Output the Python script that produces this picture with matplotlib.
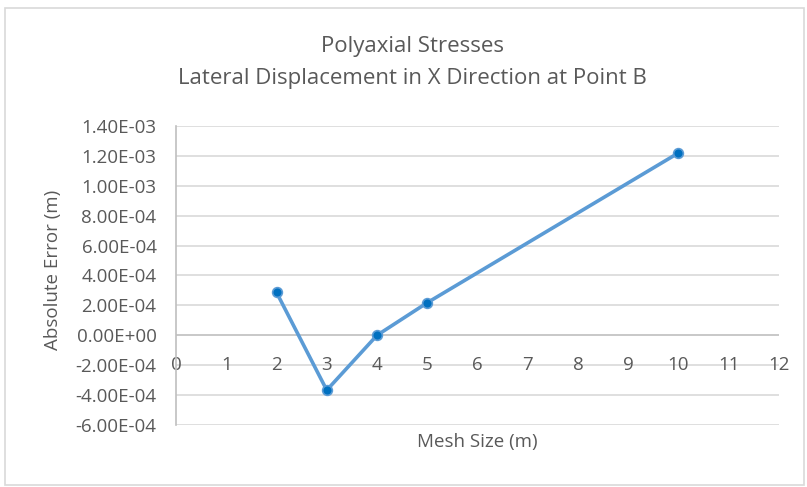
import matplotlib.pyplot as plt
from matplotlib.patches import Rectangle

# mesh size vs. absolute error
mesh_size = [2, 3, 4, 5, 10]
abs_error = [2.87e-4, -3.67e-4, 0.0, 2.18e-4, 1.22e-3]

y_ticks = [-6e-4, -4e-4, -2e-4, 0.0, 2e-4, 4e-4, 6e-4, 8e-4, 1.0e-3, 1.2e-3, 1.4e-3]
x_ticks = list(range(0, 13))

text_col = '#595959'
plt.rcParams['font.family'] = ['Open Sans', 'DejaVu Sans']

fig = plt.figure(figsize=(8.07, 4.87), dpi=100)
ax = fig.add_axes([0.2181, 0.1273, 0.7472, 0.614])

# grid lines
for v in y_ticks:
    col = '#bfbfbf' if v == 0 else '#d9d9d9'
    ax.axhline(v, color=col, lw=1.2, zorder=1)

ax.plot(mesh_size, abs_error, color='#5B9BD5', lw=2.6, zorder=3,
        marker='o', markersize=7, markerfacecolor='#0070C0',
        markeredgecolor='#5B9BD5', markeredgewidth=1.2)

ax.set_xlim(0, 12)
ax.set_ylim(-6e-4, 1.4e-3)
ax.set_yticks(y_ticks)
ax.set_yticklabels(['%.2E' % v for v in y_ticks], color=text_col, fontsize=13.5)
ax.set_xticks([])

for s in ['top', 'right', 'bottom']:
    ax.spines[s].set_visible(False)
ax.spines['left'].set_color('#bfbfbf')
ax.spines['left'].set_linewidth(1.2)
ax.tick_params(axis='y', length=0, pad=14)

# x tick labels sit next to the zero line, like Excel
for x in x_ticks:
    ax.text(x, -2e-4, str(x), ha='center', va='center', color=text_col, fontsize=13.5, zorder=2)

fig.text(0.066, 0.445, 'Absolute Error (m)', ha='center', va='center', rotation=90,
         color=text_col, fontsize=13.5)
fig.text(0.592, 0.093, 'Mesh Size (m)', ha='center', va='center', color=text_col, fontsize=13.5)

fig.text(0.511, 0.905, 'Polyaxial Stresses', ha='center', va='center', color=text_col, fontsize=16)
fig.text(0.511, 0.838, 'Lateral Displacement in X Direction at Point B', ha='center', va='center',
         color=text_col, fontsize=16)

fig.patches.append(Rectangle((0.006, 0.004), 0.99, 0.98, transform=fig.transFigure,
                             fill=False, edgecolor='#d9d9d9', lw=1.2))

fig.savefig('out.png', dpi=100)
